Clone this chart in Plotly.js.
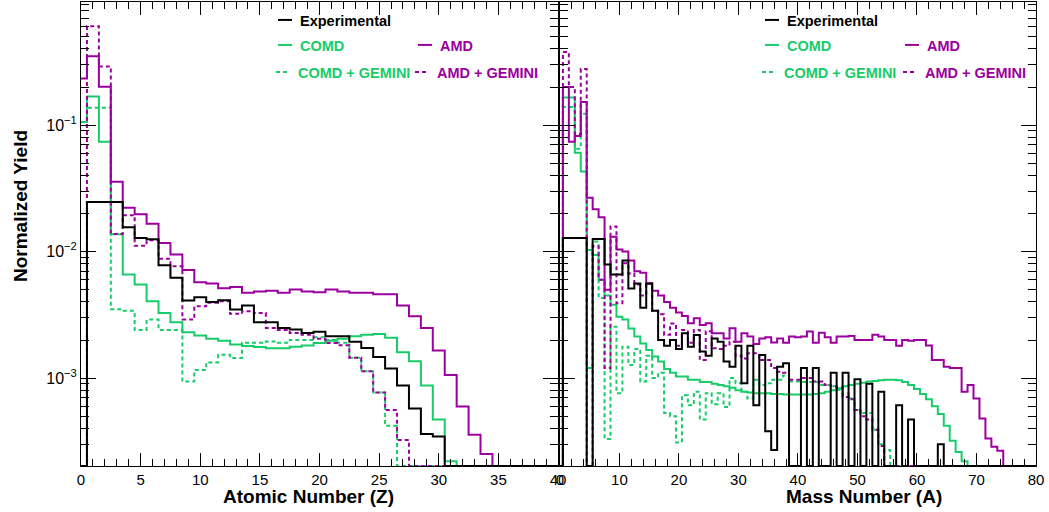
<!DOCTYPE html>
<html><head><meta charset="utf-8">
<script src="https://cdn.plot.ly/plotly-3.0.1.min.js"></script>
<style>html,body{margin:0;padding:0;background:#fff}#chart{width:1049px;height:512px}</style>
</head><body><div id="chart"></div>
<script>
// ---------- data ----------
const Z_BINS = [0,1,2,3,4,5,6,7,8,9,10,11,12,13,14,15,16,17,18,19,20,21,22,23,24,25,26,27,28,29,30,31,32,33,34,35,36,37,38,39,40];
const A_BINS = [0,1,2,3,4,5,6,7,8,9,10,11,12,13,14,15,16,17,18,19,20,21,22,23,24,25,26,27,28,29,30,31,32,33,34,35,36,37,38,39,40,41,42,43,44,45,46,47,48,49,50,51,52,53,54,55,56,57,58,59,60,61,62,63,64,65,66,67,68,69,70,71,72,73,74,75,76,77,78,79,80];

const expZ = [0,0.0247,0.0247,0.0247,0.0156,0.0128,0.0125,0.0078,0.0062,0.0041,0.00436,0.0040,0.00413,0.00348,0.00374,0.00276,0.00276,0.00249,0.00242,0.00227,0.00232,0.00214,0.00214,0.00194,0.00173,0.00147,0.00119,0.000875,0.000575,0.000362,0.000345,0,0,0,0,0,0,0,0,0,0];
const comdZ = [0.106,0.168,0.0738,0.0137,0.00659,0.0055,0.00405,0.00327,0.00276,0.0023,0.00217,0.00205,0.00197,0.00184,0.00179,0.00176,0.00172,0.00172,0.00177,0.00181,0.00189,0.00197,0.00205,0.00214,0.0022,0.00223,0.00208,0.0016,0.00136,0.000875,0.00047,0.00022,0,0,0,0,0,0,0,0,0];
const amdZ = [0.234,0.35,0.201,0.0356,0.0222,0.0197,0.0166,0.0117,0.0095,0.00714,0.00573,0.0056,0.00514,0.00526,0.00472,0.00484,0.0049,0.00472,0.00502,0.00484,0.00478,0.00502,0.00484,0.00472,0.00472,0.0046,0.0046,0.00374,0.00308,0.00249,0.00165,0.00106,0.000596,0.000356,0.000251,0,0,0,0,0,0];
const comdGemZ = [0,0.137,0.137,0.0035,0.0034,0.0024,0.0029,0.0024,0.0024,0.00094,0.00116,0.00133,0.00153,0.00144,0.0019,0.0019,0.00195,0.0019,0.002,0.002,0.0021,0.002,0.0019,0.00145,0.00113,0.00077,0.00042,0,0,0,0,0,0,0,0,0,0,0,0,0,0];
const amdGemZ = [0,0.605,0.29,0.0138,0.0194,0.0111,0.0123,0.00877,0.00767,0.0029,0.0037,0.00394,0.00405,0.00322,0.00338,0.00327,0.00249,0.0024,0.00227,0.0022,0.00205,0.00189,0.00182,0.00145,0.00113,0.00077,0.00056,0.000324,0,0,0,0,0,0,0,0,0,0,0,0,0];

const expA = [0,0.0128,0.0128,0.0128,0.0128,0,0.0126,0.0126,0.0079,0.0066,0.0066,0.0085,0.0051,0.0056,0.0036,0.0056,0.0034,0.0020,0.0018,0.0020,0.0017,0.00226,0.00177,0.00219,0.00162,0.0015,0.00206,0.00194,0.00135,0.00123,0.0018,0.00091,0.0018,0.00061,0.00152,0.00038,0.00027,0.00123,0.00131,0,0,0.0012,0,0.0012,0,0,0.0011,0,0.0011,0,0.00098,0,0.0009,0,0.00078,0,0,0.00061,0,0.00047,0,0,0,0,0.0003,0,0,0,0,0,0,0,0,0,0,0,0,0,0,0,0];
const comdA = [0,0.165,0.165,0.0605,0.043,0.0103,0.0094,0.006,0.0045,0.0038,0.00306,0.0029,0.00247,0.00213,0.00188,0.00167,0.00148,0.00135,0.00118,0.0011,0.00103,0.00103,0.00097,0.00097,0.00093,0.00093,0.0009,0.00088,0.00086,0.00084,0.0008,0.00078,0.00077,0.00076,0.00076,0.00076,0.00075,0.00075,0.00074,0.00074,0.00074,0.00074,0.00074,0.00075,0.00076,0.00078,0.0008,0.00083,0.00086,0.00088,0.0009,0.00092,0.00094,0.00095,0.00096,0.00097,0.00097,0.00096,0.00093,0.00088,0.00082,0.00075,0.00068,0.0006,0.00052,0.00042,0.00032,0.00026,0.00022,0,0,0,0,0,0,0,0,0,0,0,0];
const amdA = [0,0.20,0.074,0.082,0.152,0.0267,0.0216,0.0187,0.005,0.0131,0.0104,0.0100,0.0085,0.0070,0.0068,0.0056,0.0049,0.0045,0.0040,0.0036,0.0033,0.0031,0.00271,0.00297,0.00263,0.00271,0.00226,0.00226,0.00206,0.00248,0.00194,0.00226,0.00213,0.00186,0.00206,0.0021,0.00191,0.00206,0.0019,0.00213,0.0021,0.00213,0.00233,0.0019,0.00228,0.0021,0.0019,0.00213,0.00213,0.00215,0.002,0.002,0.002,0.0022,0.00213,0.002,0.002,0.0018,0.002,0.00197,0.002,0.002,0.00181,0.00139,0.00139,0.00123,0.0012,0.0012,0.00078,0.00088,0.00069,0.00048,0.000333,0.000286,0.000266,0,0,0,0,0,0];
const comdGemA = [0,0.139,0.139,0.065,0.123,0.0012,0.012,0.0043,0.00033,0.00255,0.00076,0.00177,0.00127,0.0017,0.00094,0.0015,0.001,0.0011,0.00053,0.0005,0.00031,0.00073,0.00061,0.00078,0.00047,0.00076,0.00062,0.00076,0.00059,0.001,0.00091,0.00078,0.00069,0.00097,0.00088,0.00091,0.00097,0.00097,0.00105,0.00094,0.00094,0.00093,0.00093,0.00093,0.00088,0.00088,0.00086,0.00081,0.00076,0.00069,0.00056,0.00053,0.00053,0.00039,0.0003,0.00027,0,0,0,0,0,0,0,0,0,0,0,0,0,0,0,0,0,0,0,0,0,0,0,0,0];
const amdGemA = [0,0.378,0.2,0.085,0.277,0,0.011,0.006,0.0012,0.0158,0.0039,0.0081,0.0067,0.0055,0.0045,0.0056,0.0034,0.0032,0.0022,0.0027,0.0018,0.0024,0.0019,0.0024,0.00139,0.00235,0.00172,0.0017,0.0018,0.00194,0.0015,0.00143,0.00157,0.00157,0.00139,0.00139,0.0012,0.00112,0.0011,0.00097,0.00097,0.001,0.001,0.00094,0.00094,0.00088,0.00086,0.00084,0.00071,0.00068,0.00056,0.0005,0.00047,0.00039,0.00029,0,0,0,0,0,0,0,0,0,0,0,0,0,0,0,0,0,0,0,0,0,0,0,0,0,0];

const SERIES_NAMES = ['Experimental','COMD','AMD','COMD + GEMINI','AMD + GEMINI'];
const X_TITLES = ['Atomic Number (Z)','Mass Number (A)'];
const Y_TITLE = 'Normalized Yield';

// ---------- style ----------
const C_EXP = '#000000', C_COMD = '#17cc69', C_AMD = '#9b009f';
const LOG_RANGE = [-3.695, -0.027];
const Y_FLOOR = Math.pow(10, LOG_RANGE[0]);
const FONT = 'Liberation Sans, Arial, Helvetica, sans-serif';

function steps(centers, values){
  const x = [], y = [];
  for (let i = 0; i < centers.length; i++){
    x.push(centers[i] - 0.5);
    y.push(values[i] > 0 ? values[i] : Y_FLOOR);
  }
  x.push(centers[centers.length-1] + 0.5);
  y.push(y[y.length-1]);
  return {x, y};
}

function trace(centers, values, name, color, dash, xa, ya, leg){
  const s = steps(centers, values);
  return {type:'scatter', mode:'lines', x:s.x, y:s.y, name:name,
    xaxis:xa, yaxis:ya, legend:leg, showlegend:true, hoverinfo:'skip',
    line:{color:color, width:2, shape:'hv', dash:dash}};
}

const DOT = '4px,3px';
const traces = [
  trace(Z_BINS, comdZ, SERIES_NAMES[1], C_COMD, 'solid', 'x','y','legend2'),
  trace(Z_BINS, comdGemZ, SERIES_NAMES[3], C_COMD, DOT, 'x','y','legend4'),
  trace(Z_BINS, amdZ, SERIES_NAMES[2], C_AMD, 'solid', 'x','y','legend3'),
  trace(Z_BINS, amdGemZ, SERIES_NAMES[4], C_AMD, DOT, 'x','y','legend5'),
  trace(Z_BINS, expZ, SERIES_NAMES[0], C_EXP, 'solid', 'x','y','legend'),
  trace(A_BINS, comdA, SERIES_NAMES[1], C_COMD, 'solid', 'x2','y2','legend7'),
  trace(A_BINS, comdGemA, SERIES_NAMES[3], C_COMD, DOT, 'x2','y2','legend9'),
  trace(A_BINS, amdA, SERIES_NAMES[2], C_AMD, 'solid', 'x2','y2','legend8'),
  trace(A_BINS, amdGemA, SERIES_NAMES[4], C_AMD, DOT, 'x2','y2','legend10'),
  trace(A_BINS, expA, SERIES_NAMES[0], C_EXP, 'solid', 'x2','y2','legend6')
];

// ---------- layout ----------
const W = 1049, H = 512, ML = 81, MR = 13, MT = 2, MB = 46;
const PW = W - ML - MR, PH = H - MT - MB;
const px = v => (v - ML) / PW;
const py = v => (H - MB - v) / PH;

const minorLog = [];
for (let d = -4; d <= 0; d++) for (let m = 2; m <= 9; m++) minorLog.push(m * Math.pow(10, d));

function xAxis(domain, rng, dt, mdt, anchor){
  return {domain:domain, range:rng, anchor:anchor, tick0:0, dtick:dt, ticks:'inside', ticklen:13,
    tickwidth:1, tickcolor:'#000', showline:true, linecolor:'#000', linewidth:1, mirror:'ticks',
    showgrid:false, zeroline:false, tickfont:{family:FONT, size:15, color:'#000'},
    minor:{dtick:mdt, tick0:0, ticks:'inside', ticklen:7, tickwidth:1, tickcolor:'#000', showgrid:false}};
}
function yAxis(anchor, labels){
  return {type:'log', range:LOG_RANGE, anchor:anchor, domain:[0,1],
    tickmode:'array', tickvals:[0.001,0.01,0.1], ticktext:['10<sup>\u22123</sup>','10<sup>\u22122</sup>','10<sup>\u22121</sup>'],
    showticklabels:labels, ticks:'inside', ticklen:15, tickwidth:1, tickcolor:'#000',
    showline:true, linecolor:'#000', linewidth:1, mirror:'ticks', showgrid:false, zeroline:false,
    tickfont:{family:FONT, size:16, color:'#000'},
    minor:{tickmode:'array', tickvals:minorLog, ticks:'inside', ticklen:8, tickwidth:1, tickcolor:'#000', showgrid:false}};
}

function leg(xpx, ypx, color){
  return {x:px(xpx - 40), y:py(ypx), xanchor:'left', yanchor:'middle', bgcolor:'rgba(0,0,0,0)',
    borderwidth:0, font:{family:FONT, size:14.5, color:color, weight:'bold'}, tracegroupgap:0};
}

const layout = {
  width:W, height:H, margin:{l:ML, r:MR, t:MT, b:MB}, paper_bgcolor:'#fff', plot_bgcolor:'#fff',
  showlegend:true, hovermode:false,
  xaxis: xAxis([0, 0.4995], [0, 40], 5, 1, 'y'),
  yaxis: yAxis('x', true),
  xaxis2: xAxis([0.5015, 1], [0, 80], 10, 2, 'y2'),
  yaxis2: yAxis('x2', false),
  legend:  leg(300, 20, C_EXP),
  legend2: leg(300, 45, C_COMD),
  legend3: leg(440, 45, C_AMD),
  legend4: leg(298, 72, C_COMD),
  legend5: leg(437, 72, C_AMD),
  legend6: leg(787, 20, C_EXP),
  legend7: leg(787, 45, C_COMD),
  legend8: leg(927, 45, C_AMD),
  legend9: leg(784, 72, C_COMD),
  legend10: leg(925, 72, C_AMD),
  annotations:[
    {text:Y_TITLE, xref:'paper', yref:'paper', x:px(20), y:py(206), textangle:-90, showarrow:false,
     xanchor:'center', yanchor:'middle', font:{family:FONT, size:19, color:'#000', weight:'bold'}},
    {text:X_TITLES[0], xref:'paper', yref:'paper', x:px(308), y:py(496.5), showarrow:false,
     xanchor:'center', yanchor:'middle', font:{family:FONT, size:19, color:'#000', weight:'bold'}},
    {text:X_TITLES[1], xref:'paper', yref:'paper', x:px(864), y:py(496.5), showarrow:false,
     xanchor:'center', yanchor:'middle', font:{family:FONT, size:19, color:'#000', weight:'bold'}}
  ]
};

Plotly.newPlot('chart', traces, layout, {staticPlot:true, displayModeBar:false}).then(function(gd){
  // shorter legend line samples, like the original's compact legend keys
  gd.querySelectorAll('.legendlines path').forEach(function(p){ p.setAttribute('d', 'M18,0h14'); });
});
</script></body></html>
